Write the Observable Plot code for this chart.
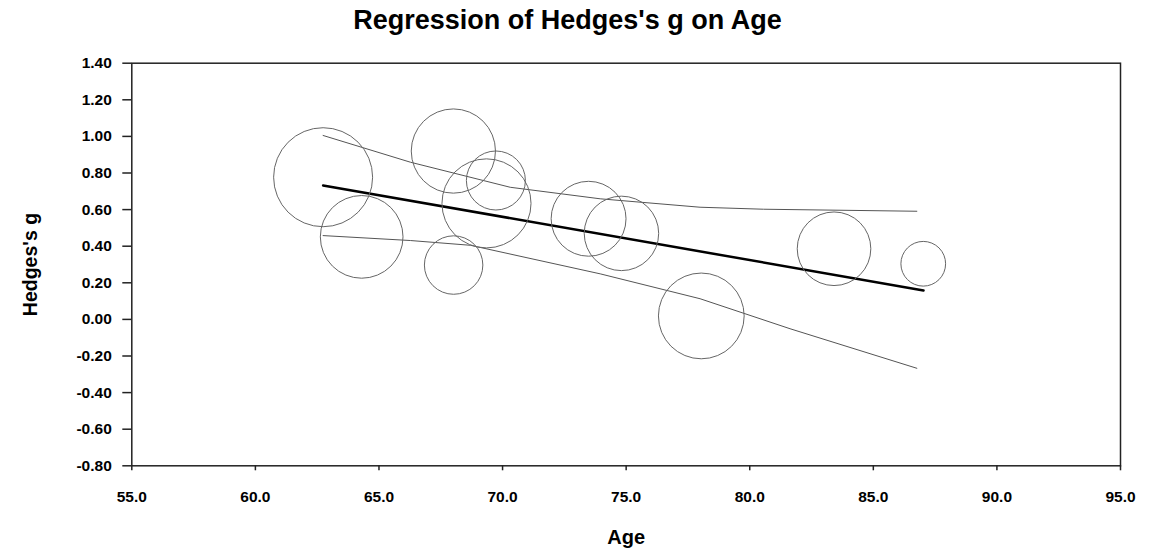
<!DOCTYPE html>
<html>
<head>
<meta charset="utf-8">
<script src="https://cdn.jsdelivr.net/npm/d3@7"></script>
<script src="https://cdn.jsdelivr.net/npm/@observablehq/plot@0.6"></script>
<style>
  html, body { margin: 0; padding: 0; background: #fff; }
  #title { height: 40px; line-height: 40px; text-align: center; font-family: "Liberation Sans", Arial, sans-serif; font-weight: bold; font-size: 27px; color: #000; width: 1135px; }
  svg text { font-weight: bold; }
</style>
</head>
<body>
<div id="title">Regression of Hedges's g on Age</div>
<div id="chart"></div>
<script>
// Studies (bubbles)
const studyAge = [62.74, 64.30, 68.01, 69.73, 69.35, 68.02, 73.48, 74.81, 78.04, 83.41, 87.02];
const studyG = [0.777, 0.451, 0.920, 0.759, 0.634, 0.297, 0.550, 0.470, 0.019, 0.386, 0.304];
const studyWeight = [15.2, 10.6, 11.0, 5.4, 12.3, 5.3, 8.7, 8.6, 11.4, 8.4, 3.1];

// Regression line
const regAge = [62.74, 87.03];
const regG = [0.732, 0.158];

// Confidence bounds
const upperAge = [62.74, 66.27, 70.31, 73.95, 77.99, 80.56, 86.76];
const upperG = [1.005, 0.859, 0.722, 0.659, 0.613, 0.602, 0.591];
const lowerAge = [62.74, 66.27, 68.70, 73.95, 77.99, 81.63, 86.76];
const lowerG = [0.458, 0.431, 0.405, 0.249, 0.113, -0.051, -0.267];

// Ticks
const xTicks = [55, 60, 65, 70, 75, 80, 85, 90, 95];
const yTicks = [-0.8, -0.6, -0.4, -0.2, 0, 0.2, 0.4, 0.6, 0.8, 1.0, 1.2, 1.4];

const studies = studyAge.map((a, i) => ({age: a, g: studyG[i], w: studyWeight[i]}));
const reg = regAge.map((a, i) => ({age: a, g: regG[i]}));
const upper = upperAge.map((a, i) => ({age: a, g: upperG[i]}));
const lower = lowerAge.map((a, i) => ({age: a, g: lowerG[i]}));

const font = '"Liberation Sans", Arial, sans-serif';

const chart = Plot.plot({
  width: 1152,
  height: 513,
  marginTop: 22.7,
  marginLeft: 131.3,
  marginRight: 32,
  marginBottom: 87.7,
  style: {fontFamily: font, fontSize: "15.5px", color: "#000", background: "#fff"},
  x: {domain: [55, 95], ticks: xTicks},
  y: {domain: [-0.8, 1.4], ticks: yTicks},
  r: {type: "sqrt", domain: [0, 15.2], range: [0, 49.5]},
  marks: [
    Plot.frame({stroke: "#222", strokeWidth: 1.5}),
    Plot.axisY({ticks: yTicks, tickFormat: d => d.toFixed(2), tickSize: 9, tickPadding: 11, label: null, stroke: "#222", strokeWidth: 1.5, fontWeight: "bold", fontSize: 15.5}),
    Plot.axisX({ticks: xTicks, tickFormat: d => d.toFixed(1), tickSize: 5, tickPadding: 20, label: null, stroke: "#222", strokeWidth: 1.5, fontWeight: "bold", fontSize: 15.5}),
    Plot.line(upper, {x: "age", y: "g", stroke: "#555", strokeWidth: 1}),
    Plot.line(lower, {x: "age", y: "g", stroke: "#555", strokeWidth: 1}),
    Plot.line(reg, {x: "age", y: "g", stroke: "#000", strokeWidth: 2.5}),
    Plot.dot(studies, {x: "age", y: "g", r: "w", stroke: "#666", strokeWidth: 1, fill: "none"}),
    Plot.text(["Hedges's g"], {frameAnchor: "left", dx: -101, rotate: -90, textAnchor: "middle", lineAnchor: "middle", fontSize: 19.5, fontWeight: "bold", fill: "#000"}),
    Plot.text(["Age"], {frameAnchor: "bottom", dy: 72, textAnchor: "middle", lineAnchor: "middle", fontSize: 20, fontWeight: "bold", fill: "#000"})
  ]
});
document.getElementById("chart").appendChild(chart);
</script>
</body>
</html>
